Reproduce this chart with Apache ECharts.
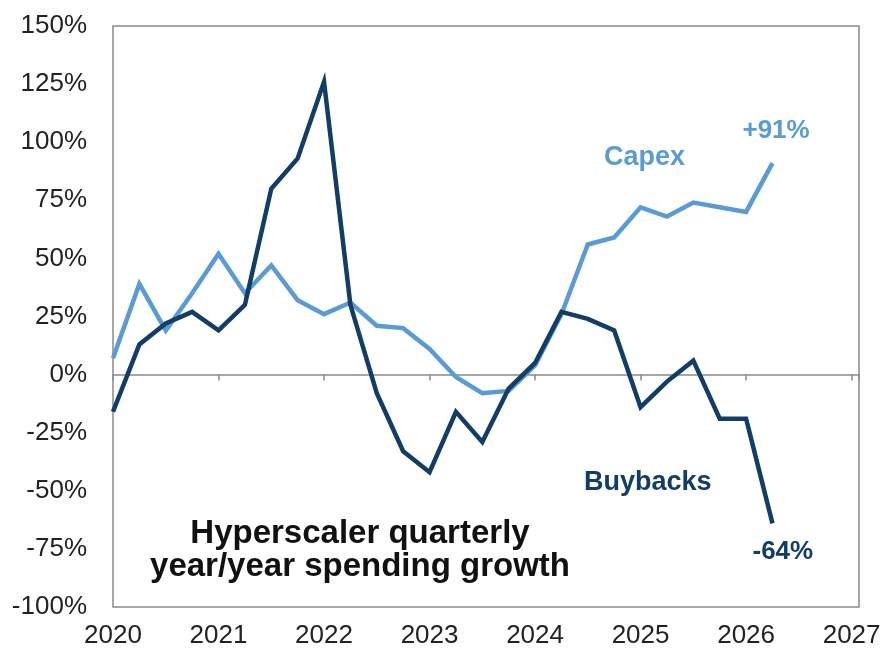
<!DOCTYPE html>
<html>
<head>
<meta charset="utf-8">
<script src="https://cdn.jsdelivr.net/npm/echarts@6/dist/echarts.min.js"></script>
<style>
  html, body { margin: 0; padding: 0; background: #fff; }
  #chart { width: 887px; height: 650px; }
</style>
</head>
<body>
<div id="chart"></div>
<script>
// Quarterly year/year growth, first quarter of 2020 through first half of 2026
const quarters = [
  2020.00, 2020.25, 2020.50, 2020.75,
  2021.00, 2021.25, 2021.50, 2021.75,
  2022.00, 2022.25, 2022.50, 2022.75,
  2023.00, 2023.25, 2023.50, 2023.75,
  2024.00, 2024.25, 2024.50, 2024.75,
  2025.00, 2025.25, 2025.50, 2025.75,
  2026.00, 2026.25
];
const capex = [
  7, 39, 19, 35,
  52, 35, 47, 32,
  26, 31, 21, 20,
  11, -1, -8, -7,
  4, 26, 56, 59,
  72, 68, 74, 72,
  70, 91
];
const buybacks = [
  -16, 13, 22, 27,
  19, 30, 80, 93,
  126, 30, -8, -33,
  -42, -16, -29, -6,
  5, 27, 24, 19,
  -14, -3, 6, -19,
  -19, -64
];
const yearTicks = [2020, 2021, 2022, 2023, 2024, 2025, 2026, 2027];

const CAPEX_COLOR = '#5B9BD5';
const BUYBACK_COLOR = '#123D66';
const FONT = '"Liberation Sans", Arial, sans-serif';

function pairs(values) {
  return values.map((v, i) => [quarters[i], v]);
}
function pct(v) {
  return (v > 0 ? '+' : '') + v + '%';
}

const chart = echarts.init(document.getElementById('chart'));
chart.setOption({
  animation: false,
  backgroundColor: '#ffffff',
  grid: {
    left: 113, right: 28, top: 26, bottom: 43,
    show: true, borderColor: '#8a8a8a', borderWidth: 1.5,
    containLabel: false
  },
  xAxis: [
    {
      type: 'value', min: yearTicks[0], max: 2027.07, interval: 1,
      position: 'bottom',
      axisLine: { show: false, onZero: false },
      axisTick: { show: false },
      splitLine: { show: false },
      axisLabel: {
        fontFamily: FONT, fontSize: 26, color: '#222', margin: 16,
        formatter: v => (yearTicks.indexOf(v) >= 0 ? String(v) : '')
      }
    },
    {
      // zero line with year ticks
      type: 'value', min: yearTicks[0], max: 2027.07, interval: 1,
      position: 'bottom',
      axisLine: { show: true, onZero: true, lineStyle: { color: '#8a8a8a', width: 1.5 } },
      axisTick: { show: true, inside: false, length: 6, lineStyle: { color: '#8a8a8a', width: 1.5 } },
      axisLabel: { show: false },
      splitLine: { show: false }
    }
  ],
  yAxis: {
    type: 'value', min: -100, max: 150, interval: 25,
    axisLine: { show: false },
    axisTick: { show: false },
    splitLine: { show: false },
    axisLabel: {
      fontFamily: FONT, fontSize: 26, color: '#222', margin: 26,
      formatter: v => v + '%'
    }
  },
  series: [
    {
      name: 'Capex', type: 'line', xAxisIndex: 0,
      data: pairs(capex),
      showSymbol: false, symbol: 'none',
      lineStyle: { color: CAPEX_COLOR, width: 4.5, join: 'miter' },
      itemStyle: { color: CAPEX_COLOR },
      endLabel: {
        show: true, distance: 0, offset: [-30, -32],
        fontFamily: FONT, fontSize: 26, fontWeight: 'bold', color: CAPEX_COLOR,
        formatter: p => pct(p.value[1])
      },
      z: 3
    },
    {
      name: 'Buybacks', type: 'line', xAxisIndex: 0,
      data: pairs(buybacks),
      showSymbol: false, symbol: 'none',
      lineStyle: { color: BUYBACK_COLOR, width: 4.5, join: 'miter' },
      itemStyle: { color: BUYBACK_COLOR },
      endLabel: {
        show: true, distance: 0, offset: [-20, 28],
        fontFamily: FONT, fontSize: 26, fontWeight: 'bold', color: BUYBACK_COLOR,
        formatter: p => pct(p.value[1])
      },
      z: 4
    }
  ],
  graphic: [
    {
      type: 'text', left: 604, top: 144,
      style: { text: 'Capex', fontFamily: FONT, fontSize: 27, fontWeight: 'bold', fill: CAPEX_COLOR }
    },
    {
      type: 'text', left: 584, top: 469,
      style: { text: 'Buybacks', fontFamily: FONT, fontSize: 27, fontWeight: 'bold', fill: BUYBACK_COLOR }
    },
    {
      type: 'text', x: 360, y: 517,
      style: {
        text: 'Hyperscaler quarterly\nyear/year spending growth',
        fontFamily: FONT, fontSize: 33, fontWeight: 'bold', fill: '#111',
        align: 'center', verticalAlign: 'top', lineHeight: 33
      }
    }
  ]
});
</script>
</body>
</html>
